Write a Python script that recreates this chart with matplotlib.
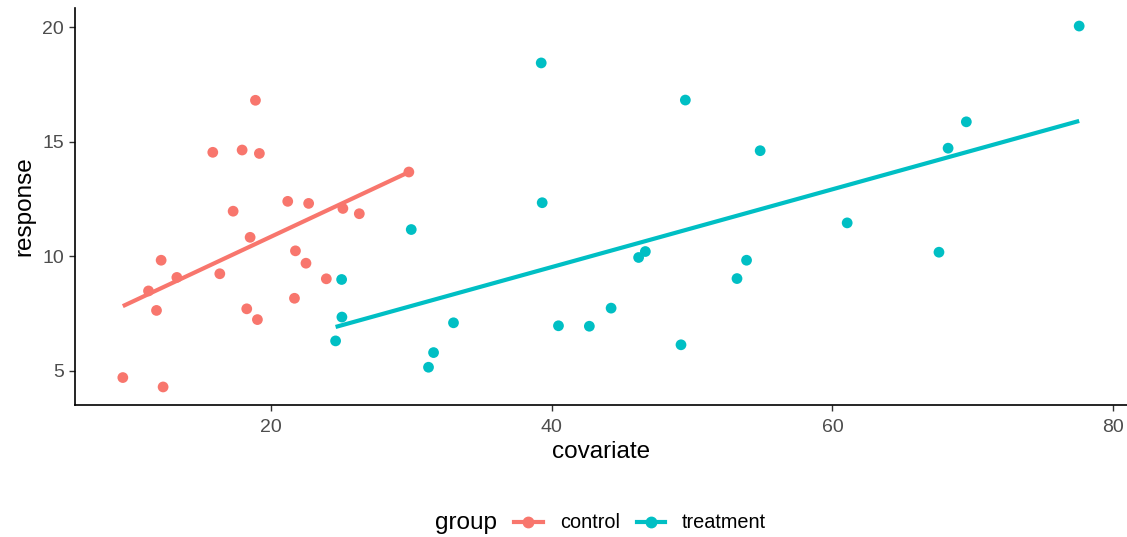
import matplotlib
matplotlib.use('Agg')
import matplotlib.pyplot as plt
from matplotlib.lines import Line2D
import numpy as np

# 字体：接近 ggplot 默认的 Helvetica
plt.rcParams['font.family'] = ['Liberation Sans', 'DejaVu Sans']

# ---- 数据 ----
control_x = [9.44, 12.31, 11.27, 11.84, 12.17, 13.29, 15.85, 16.35, 17.30, 17.94,
             18.27, 18.51, 18.89, 19.03, 19.17, 21.19, 21.67, 21.74, 22.49, 22.68,
             23.94, 25.12, 26.29, 29.82]
control_y = [4.71, 4.30, 8.49, 7.64, 9.83, 9.08, 14.54, 9.24, 11.97, 14.64,
             7.71, 10.83, 16.81, 7.24, 14.49, 12.40, 8.17, 10.24, 9.70, 12.31,
             9.02, 12.09, 11.86, 13.68]

treatment_x = [24.60, 25.03, 25.05, 29.99, 31.22, 31.58, 33.00, 39.25, 39.32, 40.48,
               42.68, 44.23, 46.19, 46.67, 49.21, 49.52, 53.20, 53.88, 54.85, 61.05,
               67.59, 68.24, 69.54, 77.58]
treatment_y = [6.31, 8.99, 7.35, 11.17, 5.16, 5.80, 7.10, 18.44, 12.34, 6.97,
               6.95, 7.74, 9.95, 10.21, 6.14, 16.82, 9.03, 9.83, 14.61, 11.46,
               10.18, 14.72, 15.87, 20.05]

group_names = ['control', 'treatment']
group_colors = ['#F8766D', '#00BFC4']

x_ticks = [20, 40, 60, 80]
y_ticks = [5, 10, 15, 20]

TEXT_GREY = '#4D4D4D'

fig = plt.figure(figsize=(11.27, 5.37), dpi=100)
ax = fig.add_axes([75 / 1127, 1 - 405 / 537, (1127 - 75) / 1127, (405 - 8) / 537])

series = [(control_x, control_y), (treatment_x, treatment_y)]
for (xs, ys), col in zip(series, group_colors):
    xs = np.array(xs)
    ys = np.array(ys)
    ax.scatter(xs, ys, s=60, color=col, edgecolors='none', zorder=3)
    # 线性拟合，相当于 geom_smooth(method = "lm", se = FALSE)
    k, b = np.polyfit(xs, ys, 1)
    xx = np.array([xs.min(), xs.max()])
    ax.plot(xx, k * xx + b, color=col, lw=3, solid_capstyle='butt', zorder=2)

# 坐标范围按 ggplot 的 5% 扩展
all_x = np.array(control_x + treatment_x)
all_y = np.array(control_y + treatment_y)
dx = (all_x.max() - all_x.min()) * 0.05
dy = (all_y.max() - all_y.min()) * 0.05
ax.set_xlim(all_x.min() - dx, all_x.max() + dx)
ax.set_ylim(all_y.min() - dy, all_y.max() + dy)

ax.set_xticks(x_ticks)
ax.set_yticks(y_ticks)
ax.tick_params(axis='both', labelsize=14, labelcolor=TEXT_GREY, color='#333333',
               length=4, width=1.0)
ax.tick_params(axis='x', pad=6)
ax.tick_params(axis='y', pad=4)

for side in ['top', 'right']:
    ax.spines[side].set_visible(False)
for side in ['left', 'bottom']:
    ax.spines[side].set_linewidth(1.2)
    ax.spines[side].set_color('black')

ax.set_xlabel('covariate', fontsize=17.5, color='black', labelpad=4)
ax.set_ylabel('response', fontsize=17.5, color='black', labelpad=5)

# ---- 底部图例（标题在左侧） ----
handles = [Line2D([], [], color=c, lw=3, marker='o', markersize=7.5) for c in group_colors]
fig.text(435 / 1127, 1 - 523 / 537, 'group', fontsize=17.5, ha='left', va='center')
fig.legend(handles, group_names, loc='center left', bbox_to_anchor=(514 / 1127, 1 - 523 / 537),
           ncol=2, frameon=False, fontsize=14.3, handlelength=1.45, handletextpad=0.85,
           columnspacing=0.85, borderpad=0, borderaxespad=0)

fig.savefig('out.png', dpi=100)
